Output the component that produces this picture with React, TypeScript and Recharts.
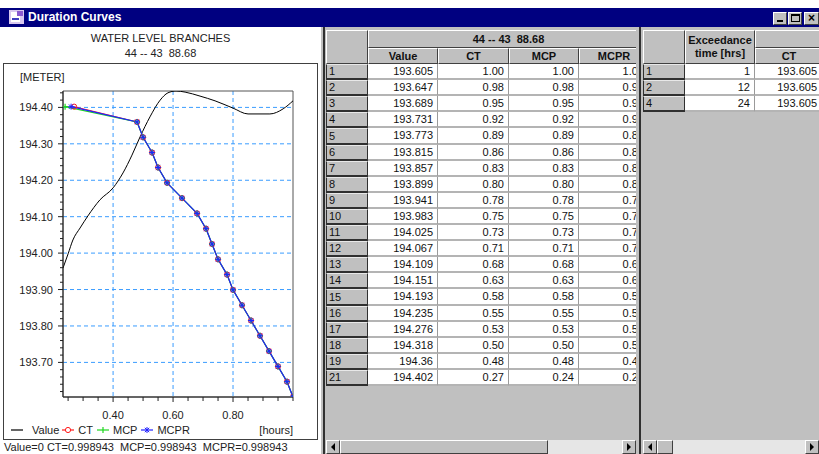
import React from 'react';
import { ComposedChart, Line, XAxis, YAxis, CartesianGrid, Legend, ReferenceArea } from 'recharts';

const FONT = '"Liberation Sans", Arial, Helvetica, sans-serif';

// ---------- data ----------
const rowLabels = ['1', '2', '3', '4', '5', '6', '7', '8', '9', '10', '11', '12', '13', '14', '15', '16', '17', '18', '19', '21'];
const levelValues = [193.605, 193.647, 193.689, 193.731, 193.773, 193.815, 193.857, 193.899, 193.941, 193.983, 194.025, 194.067, 194.109, 194.151, 194.193, 194.235, 194.276, 194.318, 194.36, 194.402];
const ctValues = [1.0, 0.98, 0.95, 0.92, 0.89, 0.86, 0.83, 0.8, 0.78, 0.75, 0.73, 0.71, 0.68, 0.63, 0.58, 0.55, 0.53, 0.5, 0.48, 0.27];
const mcpValues = [1.0, 0.98, 0.95, 0.92, 0.89, 0.86, 0.83, 0.8, 0.78, 0.75, 0.73, 0.71, 0.68, 0.63, 0.58, 0.55, 0.53, 0.5, 0.48, 0.24];
const mcprValues = [1.0, 0.98, 0.95, 0.92, 0.89, 0.86, 0.83, 0.8, 0.78, 0.75, 0.73, 0.71, 0.68, 0.63, 0.58, 0.55, 0.53, 0.5, 0.48, 0.26];

// black "Value" curve
const valueCurveX = [0.233, 0.25, 0.266, 0.29, 0.316, 0.356, 0.4, 0.433, 0.463, 0.49, 0.523, 0.557, 0.583, 0.61, 0.64, 0.69, 0.74, 0.8, 0.85, 0.923, 0.967, 1.0];
const valueCurveY = [193.959, 193.998, 194.036, 194.069, 194.102, 194.146, 194.179, 194.22, 194.269, 194.319, 194.374, 194.42, 194.44, 194.445, 194.442, 194.431, 194.418, 194.398, 194.382, 194.382, 194.396, 194.418];

const exceedRowLabels = ['1', '2', '4'];
const exceedHours = ['1', '12', '24'];
const exceedCT = ['193.605', '193.605', '193.605'];

const tableColumns = ['Value', 'CT', 'MCP', 'MCPR'];
const seriesNames = ['Value', 'CT', 'MCP', 'MCPR'];
const seriesColors = ['#000000', '#ff1a1a', '#1fd81f', '#2020ff'];

const yDomain = [193.605, 194.445];
const xDomain = [0.233, 1.0];
const yMajorTicks = [193.7, 193.8, 193.9, 194.0, 194.1, 194.2, 194.3, 194.4];
const yAllTicks = [193.62, 193.64, 193.66, 193.68, 193.7, 193.72, 193.74, 193.76, 193.78, 193.8, 193.82, 193.84, 193.86, 193.88, 193.9, 193.92, 193.94, 193.96, 193.98, 194.0, 194.02, 194.04, 194.06, 194.08, 194.1, 194.12, 194.14, 194.16, 194.18, 194.2, 194.22, 194.24, 194.26, 194.28, 194.3, 194.32, 194.34, 194.36, 194.38, 194.4, 194.42, 194.44];
const xMajorTicks = [0.4, 0.6, 0.8];
const xAllTicks = [0.25, 0.3, 0.35, 0.4, 0.45, 0.5, 0.55, 0.6, 0.65, 0.7, 0.75, 0.8, 0.85, 0.9, 0.95, 1.0];

const valueData = valueCurveX.map((x, i) => ({ x, y: valueCurveY[i] }));
const ctData = levelValues.map((y, i) => ({ x: ctValues[i], y }));
const mcpData = levelValues.map((y, i) => ({ x: mcpValues[i], y }));
const mcprData = levelValues.map((y, i) => ({ x: mcprValues[i], y }));

const isMajorY = (v: number) => yMajorTicks.some((t) => Math.abs(t - v) < 1e-6);
const isMajorX = (v: number) => xMajorTicks.some((t) => Math.abs(t - v) < 1e-6);

// ---------- chart pieces ----------
const YTick = (props: any) => {
  const { x, y, payload } = props;
  const major = isMajorY(payload.value);
  return (
    <g>
      <line x1={x - (major ? 5 : 3)} x2={x} y1={y} y2={y} stroke="#222" strokeWidth={1} />
      {major && (
        <text x={x - 10} y={y + 4} textAnchor="end" fontSize={11} fontFamily={FONT} fill="#222">
          {payload.value.toFixed(2)}
        </text>
      )}
    </g>
  );
};

const XTick = (props: any) => {
  const { x, y, payload } = props;
  const major = isMajorX(payload.value);
  return (
    <g>
      <line x1={x} x2={x} y1={y} y2={y + (major ? 5 : 4)} stroke="#222" strokeWidth={1} />
      {major && (
        <text x={x} y={y + 22} textAnchor="middle" fontSize={11} fontFamily={FONT} fill="#222">
          {payload.value.toFixed(2)}
        </text>
      )}
    </g>
  );
};

const CircleDot = (p: any) =>
  p.cx == null ? <g key={'c' + p.index} /> : <circle key={'c' + p.index} cx={p.cx} cy={p.cy} r={2.6} fill="none" stroke={seriesColors[1]} strokeWidth={1} />;
const PlusDot = (p: any) =>
  p.cx == null ? <g key={'p' + p.index} /> : (
    <g key={'p' + p.index} stroke={seriesColors[2]} strokeWidth={1.2}>
      <line x1={p.cx - 3} x2={p.cx + 3} y1={p.cy} y2={p.cy} />
      <line x1={p.cx} x2={p.cx} y1={p.cy - 3} y2={p.cy + 3} />
    </g>
  );
const StarDot = (p: any) =>
  p.cx == null ? <g key={'s' + p.index} /> : (
    <g key={'s' + p.index} stroke={seriesColors[3]} strokeWidth={1}>
      <line x1={p.cx - 3} x2={p.cx + 3} y1={p.cy} y2={p.cy} />
      <line x1={p.cx} x2={p.cx} y1={p.cy - 3} y2={p.cy + 3} />
      <line x1={p.cx - 2.2} x2={p.cx + 2.2} y1={p.cy - 2.2} y2={p.cy + 2.2} />
      <line x1={p.cx - 2.2} x2={p.cx + 2.2} y1={p.cy + 2.2} y2={p.cy - 2.2} />
    </g>
  );

const LegendIcon = ({ idx }: { idx: number }) => {
  const c = seriesColors[idx];
  return (
    <svg width={14} height={10} style={{ display: 'block' }}>
      <line x1={1} x2={13} y1={5} y2={5} stroke={c} strokeWidth={1.2} />
      {idx === 1 && <circle cx={7} cy={5} r={2.6} fill="#fff" stroke={c} />}
      {idx === 2 && <line x1={7} x2={7} y1={2} y2={8} stroke={c} strokeWidth={1.2} />}
      {idx === 3 && (
        <g stroke={c}>
          <line x1={7} x2={7} y1={2} y2={8} />
          <line x1={4.8} x2={9.2} y1={2.8} y2={7.2} />
          <line x1={4.8} x2={9.2} y1={7.2} y2={2.8} />
        </g>
      )}
    </svg>
  );
};

const renderLegend = () => (
  <div style={{ position: 'relative', width: 300, height: 16, fontFamily: FONT, fontSize: 11, color: '#222' }}>
    <div style={{ display: 'flex', alignItems: 'center', height: 16 }}>
      {seriesNames.map((n, i) => (
        <div key={n} style={{ display: 'flex', alignItems: 'center', marginRight: i === 0 ? 2 : 3 }}>
          <div style={{ marginRight: i === 0 ? 8 : 3 }}>
            <LegendIcon idx={i} />
          </div>
          <span>{n}</span>
        </div>
      ))}
    </div>
    <span style={{ position: 'absolute', right: 17, top: 0, lineHeight: '16px' }}>[hours]</span>
  </div>
);

const DurationChart = () => (
  <ComposedChart width={314} height={375} margin={{ top: 27, right: 24, left: 0, bottom: 0 }}>
    <CartesianGrid stroke="#3a9cff" strokeDasharray="4 3" horizontalValues={yMajorTicks} verticalValues={xMajorTicks} />
    <XAxis
      dataKey="x"
      type="number"
      domain={xDomain}
      ticks={xAllTicks}
      interval={0}
      height={42}
      tickSize={0}
      tickMargin={0}
      tick={<XTick />}
      tickLine={false}
      axisLine={{ stroke: '#222' }}
      allowDataOverflow
    />
    <YAxis
      dataKey="y"
      type="number"
      domain={yDomain}
      ticks={yAllTicks}
      interval={0}
      width={60}
      tickSize={0}
      tickMargin={0}
      tick={<YTick />}
      tickLine={false}
      axisLine={{ stroke: '#222' }}
      allowDataOverflow
    />
    <ReferenceArea x1={xDomain[0]} x2={xDomain[1]} y1={yDomain[0]} y2={yDomain[1]} fill="none" fillOpacity={0} stroke="#555" strokeWidth={1} />
    <Line data={valueData} dataKey="y" name={seriesNames[0]} type="monotone" stroke={seriesColors[0]} strokeWidth={1} dot={false} activeDot={false} isAnimationActive={false} />
    <Line data={ctData} dataKey="y" name={seriesNames[1]} type="linear" stroke={seriesColors[1]} strokeWidth={1} dot={CircleDot} activeDot={false} isAnimationActive={false} />
    <Line data={mcpData} dataKey="y" name={seriesNames[2]} type="linear" stroke={seriesColors[2]} strokeWidth={1.2} dot={PlusDot} activeDot={false} isAnimationActive={false} />
    <Line data={mcprData} dataKey="y" name={seriesNames[3]} type="linear" stroke={seriesColors[3]} strokeWidth={1.2} dot={StarDot} activeDot={false} isAnimationActive={false} />
    <Legend layout="horizontal" verticalAlign="middle" align="center" content={renderLegend} wrapperStyle={{ left: 7, top: 358, width: 300, height: 16 }} />
  </ComposedChart>
);

// ---------- window chrome helpers ----------
const abs = (left: number, top: number, width: number, height: number, extra: React.CSSProperties = {}): React.CSSProperties => ({
  position: 'absolute',
  left,
  top,
  width,
  height,
  boxSizing: 'border-box',
  ...extra,
});

const raised: React.CSSProperties = {
  background: '#c0c0c0',
  borderTop: '1px solid #ffffff',
  borderLeft: '1px solid #ffffff',
  borderRight: '1px solid #404040',
  borderBottom: '1px solid #404040',
};

const HeaderCell = ({ l, t, w, h, children, bold = true }: any) => (
  <div
    style={abs(l, t, w, h, {
      ...raised,
      display: 'flex',
      alignItems: 'center',
      justifyContent: 'center',
      textAlign: 'center',
      fontWeight: bold ? 700 : 400,
      fontSize: 11,
      lineHeight: '13px',
      color: '#111',
    })}
  >
    {children}
  </div>
);

const RowHead = ({ l, t, w, h, text }: any) => (
  <div
    style={abs(l, t, w, h, {
      background: '#c0c0c0',
      borderTop: '1px solid #e8e8e8',
      borderLeft: '1px solid #303030',
      borderRight: '1px solid #303030',
      borderBottom: '2px solid #303030',
      fontSize: 11,
      lineHeight: `${h - 3}px`,
      paddingLeft: 2,
      color: '#111',
    })}
  >
    {text}
  </div>
);

const DataCell = ({ l, t, w, h, text }: any) => (
  <div
    style={abs(l, t, w, h, {
      background: '#ffffff',
      borderRight: '1px solid #9a9a9a',
      borderBottom: '2px solid #b4b4b4',
      fontSize: 11,
      lineHeight: `${h - 2}px`,
      textAlign: 'right',
      paddingRight: 4,
      color: '#111',
    })}
  >
    {text}
  </div>
);

const Arrow = ({ l, t, dir }: any) => (
  <div style={abs(l, t, 14, 14, { ...raised, display: 'flex', alignItems: 'center', justifyContent: 'center' })}>
    <svg width={6} height={8}>
      {dir === 'left' ? <polygon points="5,0 1,4 5,8" fill="#000" /> : <polygon points="1,0 5,4 1,8" fill="#000" />}
    </svg>
  </div>
);

const rowTop = (i: number) => 64 + Math.round(i * 16.1);

export default function App() {
  const midLeft = 326;
  const midTop = 27;
  const rightLeft = 642;
  const midCols = [
    { l: 368, w: 70 },
    { l: 438, w: 71 },
    { l: 509, w: 70 },
    { l: 579, w: 70 },
  ];
  const midColValues = [
    levelValues.map((v) => String(v)),
    ctValues.map((v) => v.toFixed(2)),
    mcpValues.map((v) => v.toFixed(2)),
    mcprValues.map((v) => v.toFixed(2)),
  ];

  return (
    <div style={{ position: 'fixed', left: 0, top: 0, width: 819, height: 454, overflow: 'hidden', background: '#c0c0c0', fontFamily: FONT }}>
      {/* white strip above window */}
      <div style={abs(0, 0, 819, 8, { background: '#ffffff' })} />

      {/* title bar */}
      <div style={abs(0, 8, 819, 19, { background: '#000080' })}>
        <svg width={16} height={15} style={{ position: 'absolute', left: 9, top: 2 }}>
          <rect x={0} y={0} width={15} height={14} fill="#d8c8f0" />
          <rect x={2} y={2} width={9} height={10} fill="#ffffff" />
          <rect x={8} y={1} width={6} height={5} fill="#8a5ad0" />
          <rect x={3} y={8} width={7} height={2} fill="#4040c0" />
        </svg>
        <div style={{ position: 'absolute', left: 28, top: 2, color: '#fff', fontWeight: 700, fontSize: 12, lineHeight: '15px' }}>Duration Curves</div>
        <div style={abs(773, 4, 14, 13, raised)}>
          <div style={abs(3, 7, 6, 2, { background: '#000' })} />
        </div>
        <div style={abs(788, 4, 14, 13, raised)}>
          <div style={abs(2, 1, 9, 8, { border: '1px solid #000', borderTop: '2px solid #000' })} />
        </div>
        <div style={abs(804, 4, 15, 13, { ...raised, fontSize: 12, fontWeight: 700, lineHeight: '10px', textAlign: 'center', color: '#000' })}>×</div>
      </div>

      {/* left panel */}
      <div style={abs(0, 27, 321, 427, { background: '#ffffff' })} />
      <div style={abs(0, 31, 321, 14, { textAlign: 'center', fontSize: 11, color: '#222', lineHeight: '14px', paddingLeft: 0 })}>WATER LEVEL BRANCHES</div>
      <div style={abs(0, 46, 321, 14, { textAlign: 'center', fontSize: 11, color: '#222', lineHeight: '14px', whiteSpace: 'pre' })}>{'44 -- 43  88.68'}</div>
      <div style={abs(3, 63, 315, 377, { border: '1px solid #404040' })} />
      <div style={abs(20, 70, 60, 14, { fontSize: 11, color: '#222', lineHeight: '14px' })}>[METER]</div>
      <div style={{ position: 'absolute', left: 3, top: 64 }}>
        <DurationChart />
      </div>
      <div style={abs(4, 440, 317, 14, { fontSize: 11, color: '#222', lineHeight: '14px', whiteSpace: 'pre' })}>
        {'Value=0 CT=0.998943  MCP=0.998943  MCPR=0.998943'}
      </div>

      {/* splitter */}
      <div style={abs(323, 27, 2, 427, { background: '#303030' })} />

      {/* middle table pane */}
      <div style={abs(midLeft, midTop, 310, 413, { overflow: 'hidden' })}>
        <HeaderCell l={0} t={3} w={42} h={34}>{''}</HeaderCell>
        <HeaderCell l={368 - midLeft} t={3} w={281} h={18}>
          <span style={{ whiteSpace: 'pre' }}>{'44 -- 43  88.68'}</span>
        </HeaderCell>
        {tableColumns.map((c, j) => (
          <HeaderCell key={c} l={midCols[j].l - midLeft} t={21} w={midCols[j].w} h={16}>
            {c}
          </HeaderCell>
        ))}
        {rowLabels.map((r, i) => {
          const t = rowTop(i) - midTop;
          const h = rowTop(i + 1) - rowTop(i);
          return (
            <React.Fragment key={r}>
              <RowHead l={0} t={t} w={42} h={h} text={r} />
              {midCols.map((c, j) => (
                <DataCell key={j} l={c.l - midLeft} t={t} w={c.w} h={h} text={midColValues[j][i]} />
              ))}
            </React.Fragment>
          );
        })}
      </div>
      {/* middle scrollbar */}
      <Arrow l={326} t={440} dir="left" />
      <div style={abs(340, 440, 208, 14, raised)} />
      <div style={abs(548, 440, 74, 14, { background: '#e6e6e6' })} />
      <Arrow l={622} t={440} dir="right" />

      {/* pane separator */}
      <div style={abs(639, 27, 2, 427, { background: '#303030' })} />

      {/* right table pane */}
      <div style={abs(rightLeft, midTop, 177, 413, { overflow: 'hidden' })}>
        <HeaderCell l={1} t={3} w={42} h={34}>{''}</HeaderCell>
        <HeaderCell l={685 - rightLeft} t={3} w={70} h={34}>
          <span>
            Exceedance
            <br />
            time [hrs]
          </span>
        </HeaderCell>
        <HeaderCell l={755 - rightLeft} t={3} w={68} h={18}>{''}</HeaderCell>
        <HeaderCell l={755 - rightLeft} t={21} w={68} h={16}>
          CT
        </HeaderCell>
        {exceedRowLabels.map((r, i) => {
          const t = rowTop(i) - midTop;
          const h = rowTop(i + 1) - rowTop(i);
          return (
            <React.Fragment key={r}>
              <RowHead l={1} t={t} w={42} h={h} text={r} />
              <DataCell l={685 - rightLeft} t={t} w={70} h={h} text={exceedHours[i]} />
              <DataCell l={755 - rightLeft} t={t} w={67} h={h} text={exceedCT[i]} />
            </React.Fragment>
          );
        })}
      </div>
      {/* right scrollbar */}
      <Arrow l={643} t={440} dir="left" />
      <div style={abs(657, 440, 16, 14, raised)} />
      <div style={abs(673, 440, 132, 14, { background: '#e6e6e6' })} />
      <Arrow l={805} t={440} dir="right" />
    </div>
  );
}
